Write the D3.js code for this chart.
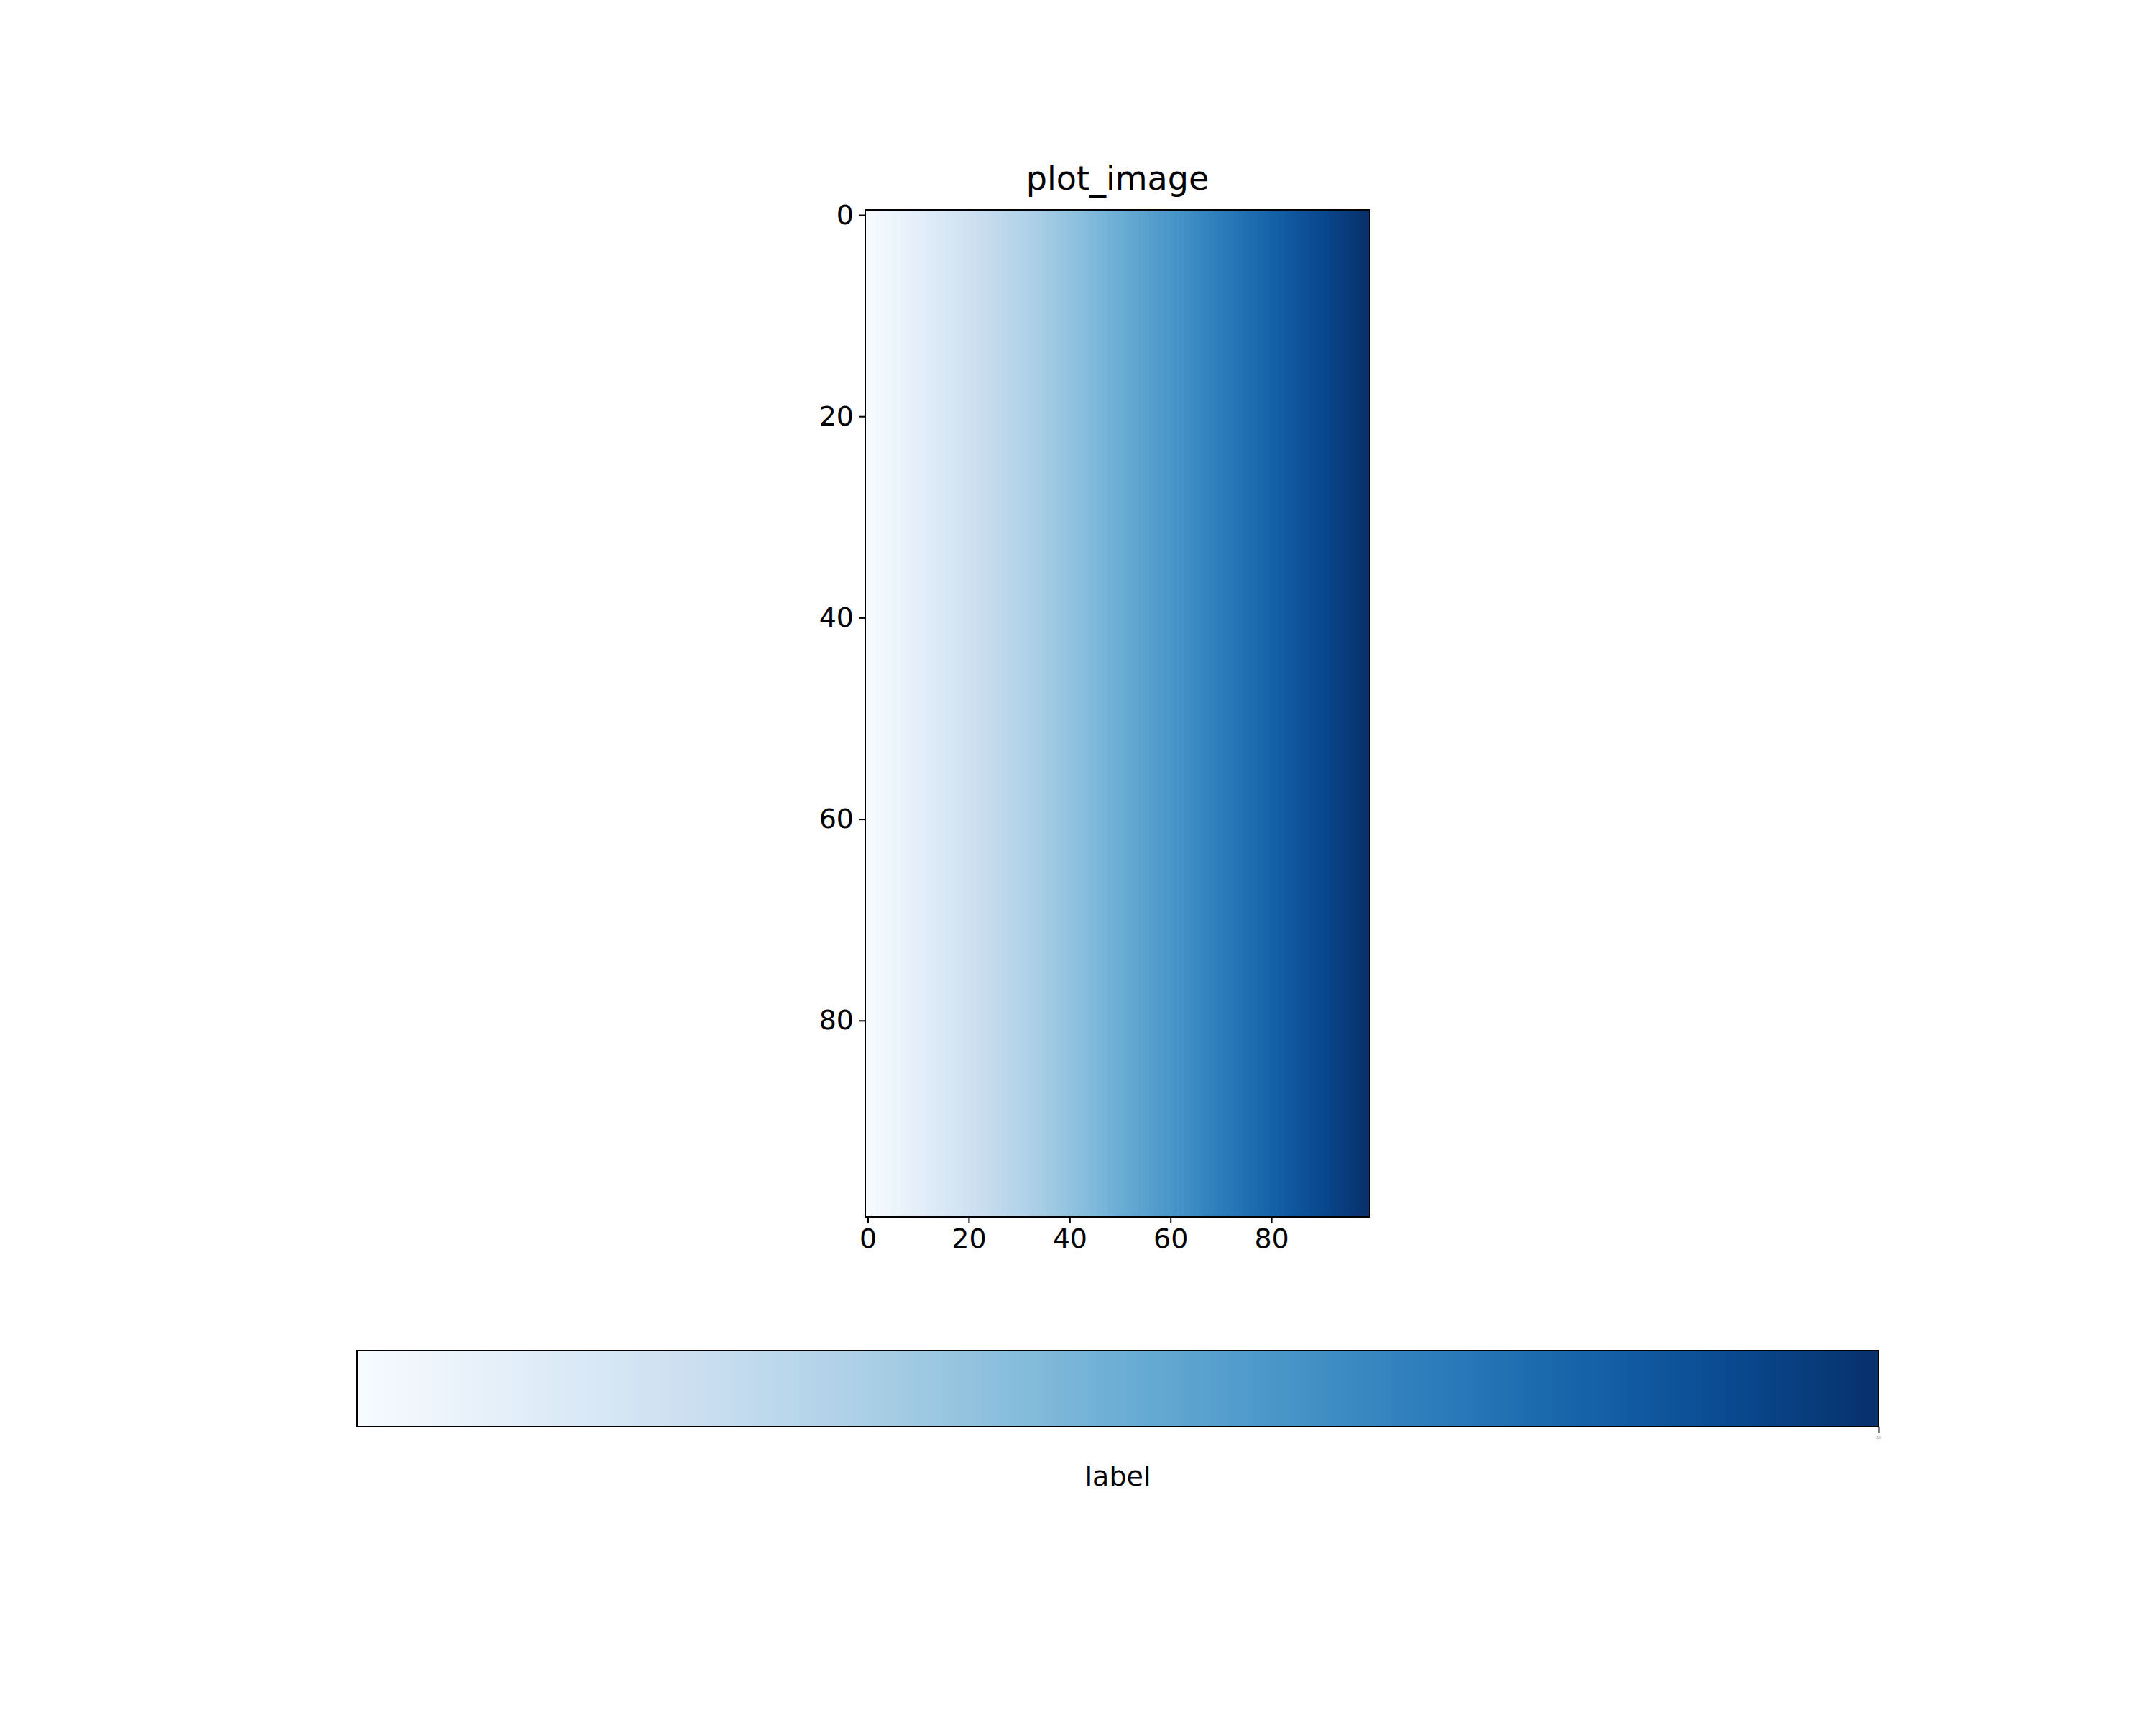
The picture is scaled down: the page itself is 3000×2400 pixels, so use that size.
<!DOCTYPE html>
<html><head><meta charset="utf-8">
<script src="https://cdn.jsdelivr.net/npm/d3@7"></script>
<style>body{margin:0;background:#fff}</style></head>
<body><svg id="c" width="3000" height="2400"></svg>
<script>
const columnValues = [0,1,2,3,4,5,6,7,8,9,10,11,12,13,14,15,16,17,18,19,20,21,22,23,24,25,26,27,28,29,30,31,32,33,34,35,36,37,38,39,40,41,42,43,44,45,46,47,48,49,50,51,52,53,54,55,56,57,58,59,60,61,62,63,64,65,66,67,68,69,70,71,72,73,74,75,76,77,78,79,80,81,82,83,84,85,86,87,88,89,90,91,92,93,94,95,96,97,98,99];
const rowCount = 100;
const xTicks = [0,20,40,60,80];
const yTicks = [0,20,40,60,80];
const title = "plot_image";
const cbLabel = "label";
const cbTicks = [99];
const cbTickLabels = ["10"];

const svg = d3.select("#c");
const font = "DejaVu Sans";
const L=1204,R=1906,T=292,B=1693;
const x = d3.scaleLinear().domain([-0.5,99.5]).range([L,R]);
const y = d3.scaleLinear().domain([-0.5,rowCount-0.5]).range([T,B]);
const color = d3.scaleSequential(d3.interpolateBlues).domain([0,99]);

svg.append("g").selectAll("rect").data(columnValues).join("rect")
  .attr("x",(d,i)=>x(i-0.5)).attr("width",x(1)-x(0)+0.6)
  .attr("y",T).attr("height",B-T).attr("fill",d=>color(d));
svg.append("rect").attr("x",L).attr("y",T).attr("width",R-L).attr("height",B-T)
  .attr("fill","none").attr("stroke","#000").attr("stroke-width",2);

const xa = svg.append("g").attr("transform",`translate(0,${B})`)
  .call(d3.axisBottom(x).tickValues(xTicks).tickSize(9).tickPadding(7).tickFormat(d3.format("d")));
const ya = svg.append("g").attr("transform",`translate(${L},0)`)
  .call(d3.axisLeft(y).tickValues(yTicks).tickSize(9).tickPadding(7).tickFormat(d3.format("d")));
[xa,ya].forEach(a=>{a.select(".domain").remove();
  a.selectAll("line").attr("stroke-width",2);
  a.selectAll("text").attr("font-family",font).attr("font-size",38).attr("fill","#000");});

svg.append("text").attr("x",(L+R)/2).attr("y",T-28).attr("text-anchor","middle")
  .attr("font-family",font).attr("font-size",46).text(title);

// colorbar
const CL=497,CR=2614,CT=1879,CB=1985;
const cx = d3.scaleLinear().domain([0,99]).range([CL,CR]);
const grad = svg.append("defs").append("linearGradient").attr("id","g");
grad.selectAll("stop").data(d3.range(0,1.0001,0.02)).join("stop")
  .attr("offset",d=>d).attr("stop-color",d=>d3.interpolateBlues(d));
svg.append("rect").attr("x",CL).attr("y",CT).attr("width",CR-CL).attr("height",CB-CT)
  .attr("fill","url(#g)").attr("stroke","#000").attr("stroke-width",2);
const ca = svg.append("g").attr("transform",`translate(0,${CB})`)
  .call(d3.axisBottom(cx).tickValues(cbTicks).tickSize(9).tickPadding(4).tickFormat((d,i)=>cbTickLabels[i]));
ca.select(".domain").remove();
ca.selectAll("line").attr("stroke-width",2);
ca.selectAll("text").attr("font-family",font).attr("font-size",5).attr("fill","#888");
svg.append("text").attr("x",(CL+CR)/2).attr("y",2067).attr("text-anchor","middle")
  .attr("font-family",font).attr("font-size",38).text(cbLabel);
</script></body></html>
